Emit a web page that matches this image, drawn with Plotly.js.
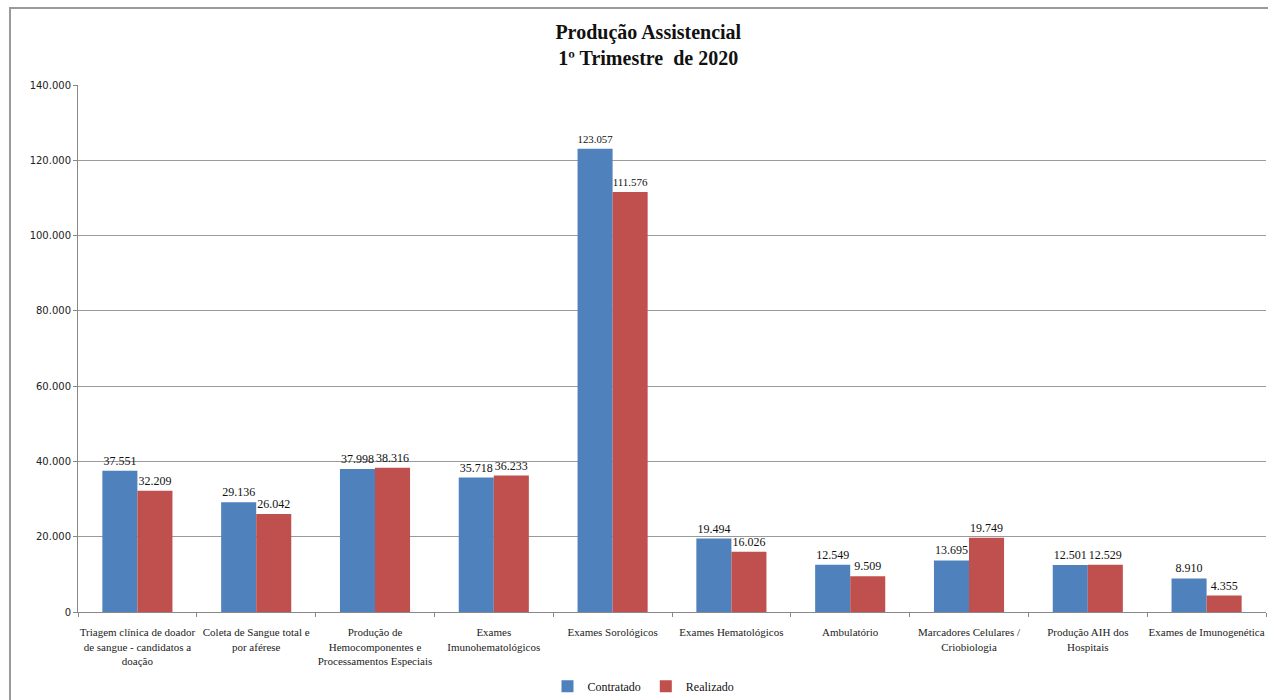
<!DOCTYPE html>
<html>
<head>
<meta charset="utf-8">
<script src="https://cdn.plot.ly/plotly-3.0.1.min.js"></script>
<style>
html,body{margin:0;padding:0;background:#fff;overflow:hidden;}
#frame{position:absolute;left:9px;top:7px;width:1270px;height:700px;border-left:2px solid #9a9a9a;border-top:2px solid #9a9a9a;}
#chart{position:absolute;left:0;top:0;width:1257px;height:691px;}
</style>
</head>
<body>
<div id="frame"><div id="chart"></div></div>
<script>
const categories = [
  "Triagem clínica de doador<br>de sangue - candidatos a<br>doação",
  "Coleta de Sangue total e<br>por aférese",
  "Produção de<br>Hemocomponentes e<br>Processamentos Especiais",
  "Exames<br>Imunohematológicos",
  "Exames Sorológicos",
  "Exames Hematológicos",
  "Ambulatório",
  "Marcadores Celulares /<br>Criobiologia",
  "Produção AIH dos<br>Hospitais",
  "Exames de Imunogenética"
];
const contratado = [37551, 29136, 37998, 35718, 123057, 19494, 12549, 13695, 12501, 8910];
const realizado  = [32209, 26042, 38316, 36233, 111576, 16026, 9509, 19749, 12529, 4355];
const yTicks = [0, 20000, 40000, 60000, 80000, 100000, 120000, 140000];

const labelFont = {family: "Liberation Serif, serif", size: 12, color: "#111"};
const traces = [
  {type: "bar", name: "Contratado", x: categories, y: contratado,
   marker: {color: "#4F81BD"}, text: contratado.map(v => v.toLocaleString("de-DE")),
   textposition: "outside", textfont: labelFont, cliponaxis: false, hoverinfo: "x+y"},
  {type: "bar", name: "Realizado", x: categories, y: realizado,
   marker: {color: "#C0504D"}, text: realizado.map(v => v.toLocaleString("de-DE")),
   textposition: "outside", textfont: labelFont, cliponaxis: false, hoverinfo: "x+y"}
];

const layout = {
  width: 1257, height: 691,
  margin: {l: 67, r: 2, t: 76, b: 88, autoexpand: false},
  paper_bgcolor: "#fff", plot_bgcolor: "#fff",
  separators: ",.",
  title: {text: "<b>Produção Assistencial<br>1º Trimestre  de 2020</b>",
          font: {family: "Liberation Serif, serif", size: 20, color: "#111"},
          x: 0.507, xref: "container", xanchor: "center", y: 0.957, yref: "container", yanchor: "top"},
  barmode: "group", bargap: 0.41, bargroupgap: 0,
  showlegend: true,
  legend: {orientation: "h", x: 0.476, xanchor: "center", y: 0.02, yref: "container", yanchor: "middle",
           font: {family: "Liberation Serif, serif", size: 12, color: "#111"}, itemwidth: 30, traceorder: "normal"},
  xaxis: {tickfont: {family: "Liberation Serif, serif", size: 11, color: "#222"},
          tickangle: 0, ticks: "outside", tickson: "boundaries", ticklen: 4, tickcolor: "#888",
          ticklabelstandoff: 10,
          showline: true, linecolor: "#888", linewidth: 1, automargin: false},
  yaxis: {range: [0, 140000], tickvals: yTicks, ticktext: yTicks.map(v => v.toLocaleString("de-DE")),
          tickfont: {family: "DejaVu Sans, sans-serif", size: 10, color: "#222"},
          ticks: "outside", ticklen: 4, tickcolor: "#888",
          showgrid: true, gridcolor: "#9a9a9a", gridwidth: 1,
          showline: true, linecolor: "#888", linewidth: 1, zeroline: false, automargin: false}
};
Plotly.newPlot("chart", traces, layout, {displayModeBar: false, staticPlot: true});
</script>
</body>
</html>
